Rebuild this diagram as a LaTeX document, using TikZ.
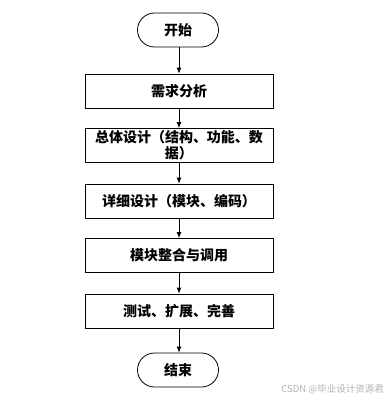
\documentclass[tikz,border=0pt]{standalone}
\usepackage{fontspec}
\newfontfamily\cjk{Noto Sans CJK SC}
\usetikzlibrary{arrows.meta}
\begin{document}
\begin{tikzpicture}[x=1pt,y=-1pt,
  stepbox/.style={draw=black,line width=0.8pt,minimum width=188pt,minimum height=34pt,inner sep=0pt,align=center,font=\cjk\bfseries\fontsize{14}{16}\selectfont},
  term/.style={draw=black,line width=0.8pt,rounded corners=17pt,minimum width=81pt,minimum height=34pt,inner sep=0pt,font=\cjk\bfseries\fontsize{14}{16}\selectfont},
  arr/.style={draw=black,line width=0.8pt,-{Latex[length=6pt,width=5pt]}}]
\useasboundingbox (0,0) rectangle (389,402);
\node[term] (start) at (178,30) {开始};
\node[stepbox] (s1) at (179,91) {需求分析};
\node[stepbox] (s2) at (179,145.5) {总体设计（结构、功能、数\\据）};
\node[stepbox] (s3) at (179,201) {详细设计（模块、编码）};
\node[stepbox] (s4) at (179,255.5) {模块整合与调用};
\node[stepbox] (s5) at (179,311) {测试、扩展、完善};
\node[term] (end) at (178,370) {结束};
\draw[arr] (start.south -| s1.north) -- (s1.north);
\draw[arr] (s1) -- (s2);
\draw[arr] (s2) -- (s3);
\draw[arr] (s3) -- (s4);
\draw[arr] (s4) -- (s5);
\draw[arr] (s5.south) -- (s5.south |- end.north);
\node[anchor=east,text=black!30,font=\cjk\fontsize{9.5}{10}\selectfont,inner sep=0pt] (wm) at (384,389) {CSDN @毕业设计资源君};
\end{tikzpicture}
\end{document}
